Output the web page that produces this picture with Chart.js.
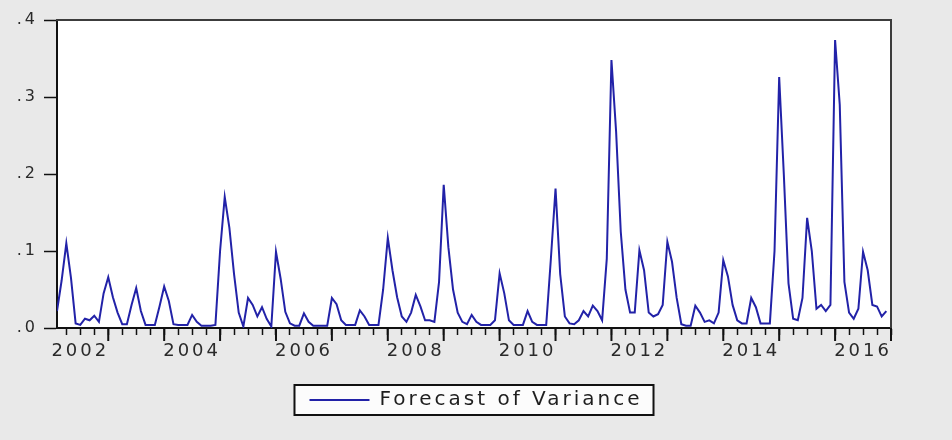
<!DOCTYPE html>
<html>
<head>
<meta charset="utf-8">
<script src="https://cdn.jsdelivr.net/npm/chart.js@4.4.1/dist/chart.umd.min.js"></script>
<style>
  html, body { margin: 0; padding: 0; background: #e9e9e9; }
  canvas { display: block; }
</style>
</head>
<body>
<canvas id="c" width="952" height="440"></canvas>
<script>
// ---------- DATA ----------
const seriesName = 'Forecast of Variance';
const startYear = 2002;   // first observation: 2002M02
const startMonth = 2;
// monthly values, 2002M02 .. 2016M12
const variance = [
  /*2002*/ 0.022, 0.062, 0.110, 0.065, 0.006, 0.004, 0.012, 0.010, 0.016, 0.008, 0.045,
  /*2003*/ 0.066, 0.040, 0.020, 0.005, 0.005, 0.030, 0.052, 0.022, 0.004, 0.004, 0.004, 0.028,
  /*2004*/ 0.054, 0.035, 0.005, 0.004, 0.004, 0.004, 0.017, 0.008, 0.003, 0.003, 0.003, 0.004,
  /*2005*/ 0.100, 0.170, 0.130, 0.070, 0.020, 0.002, 0.039, 0.030, 0.015, 0.027, 0.012, 0.002,
  /*2006*/ 0.099, 0.064, 0.021, 0.006, 0.003, 0.003, 0.019, 0.008, 0.003, 0.003, 0.003, 0.003,
  /*2007*/ 0.039, 0.031, 0.010, 0.004, 0.004, 0.004, 0.023, 0.015, 0.004, 0.004, 0.004, 0.050,
  /*2008*/ 0.117, 0.075, 0.040, 0.015, 0.008, 0.020, 0.043, 0.028, 0.010, 0.010, 0.008, 0.060,
  /*2009*/ 0.186, 0.105, 0.050, 0.020, 0.008, 0.005, 0.017, 0.008, 0.004, 0.004, 0.004, 0.010,
  /*2010*/ 0.071, 0.045, 0.010, 0.004, 0.004, 0.004, 0.022, 0.008, 0.004, 0.004, 0.004, 0.090,
  /*2011*/ 0.181, 0.070, 0.015, 0.006, 0.005, 0.010, 0.022, 0.015, 0.029, 0.022, 0.010, 0.090,
  /*2012*/ 0.348, 0.255, 0.125, 0.050, 0.020, 0.020, 0.101, 0.075, 0.020, 0.015, 0.018, 0.030,
  /*2013*/ 0.112, 0.086, 0.039, 0.005, 0.003, 0.003, 0.029, 0.020, 0.008, 0.010, 0.006, 0.020,
  /*2014*/ 0.088, 0.067, 0.030, 0.010, 0.006, 0.006, 0.039, 0.027, 0.006, 0.006, 0.006, 0.100,
  /*2015*/ 0.326, 0.199, 0.058, 0.012, 0.010, 0.039, 0.143, 0.100, 0.025, 0.030, 0.022, 0.030,
  /*2016*/ 0.374, 0.290, 0.060, 0.020, 0.012, 0.025, 0.099, 0.075, 0.030, 0.028, 0.015, 0.022
];
const yearLabels = ['2002', '2004', '2006', '2008', '2010', '2012', '2014', '2016'];
const yTickLabels = ['.0', '.1', '.2', '.3', '.4'];

// ---------- BUILD ----------
const dates = variance.map((_, i) => {
  const m0 = startMonth - 1 + i;
  return startYear + Math.floor(m0 / 12) + (m0 % 12) / 12;
});
const points = variance.map((v, i) => ({ x: dates[i], y: v }));
const xMin = dates[0];
const xMax = Math.floor(dates[dates.length - 1]) + 1;

const LS = '3px';
Chart.defaults.font.family = "'DejaVu Sans', sans-serif";

const framePlugin = {
  id: 'frame',
  beforeUpdate(chart) { chart.ctx.letterSpacing = LS; },
  beforeDraw(chart) {
    const { ctx, chartArea: a } = chart;
    ctx.letterSpacing = LS;
    ctx.save();
    ctx.fillStyle = '#ffffff';
    ctx.fillRect(a.left, a.top, a.right - a.left, a.bottom - a.top);
    const hb = chart.legend && chart.legend.legendHitBoxes[0];
    if (hb) {
      const cy = hb.top + hb.height / 2;
      ctx.fillStyle = '#fcfcfc';
      ctx.fillRect(hb.left - 15, cy - 15, hb.width + 26, 30);
      ctx.strokeStyle = '#111';
      ctx.lineWidth = 2;
      ctx.strokeRect(hb.left - 15, cy - 15, hb.width + 26, 30);
    }
    ctx.restore();
  },
  afterDraw(chart) {
    const { ctx, chartArea: a, scales: { x } } = chart;
    ctx.save();
    ctx.strokeStyle = '#3c3c3c';
    ctx.lineWidth = 2;
    ctx.beginPath();
    ctx.moveTo(a.left - 1, a.top);
    ctx.lineTo(a.right + 1, a.top);
    ctx.stroke();
    ctx.strokeStyle = '#111';
    ctx.lineWidth = 2;
    for (let yr = Math.ceil(x.min); yr <= x.max; yr++) {
      const px = x.getPixelForValue(yr);
      ctx.beginPath();
      ctx.moveTo(px, a.bottom);
      ctx.lineTo(px, a.bottom + 13);
      ctx.stroke();
    }
    ctx.restore();
  }
};

new Chart(document.getElementById('c'), {
  type: 'line',
  data: {
    datasets: [{
      label: seriesName,
      data: points,
      borderColor: '#2222a8',
      backgroundColor: '#2222a8',
      borderWidth: 2,
      pointRadius: 0,
      tension: 0,
      fill: false
    }]
  },
  options: {
    responsive: false,
    animation: false,
    layout: { padding: { left: 0, right: 0, top: 20, bottom: 20 } },
    plugins: {
      legend: {
        position: 'bottom',
        labels: {
          usePointStyle: true,
          pointStyle: 'line',
          pointStyleWidth: 60,
          color: '#1e1e1e',
          font: { size: 20 },
          padding: 10
        }
      },
      tooltip: { enabled: false }
    },
    scales: {
      x: {
        type: 'linear',
        min: xMin,
        max: xMax,
        afterBuildTicks(axis) {
          const t = [];
          for (let q = Math.ceil(xMin * 4); q <= xMax * 4; q++) t.push({ value: q / 4 });
          axis.ticks = t;
        },
        afterFit(axis) { axis.height = 52; },
        ticks: {
          autoSkip: false,
          maxRotation: 0,
          padding: 6,
          color: '#2a2a2a',
          font: { size: 18 },
          callback(v) {
            const yr = Math.floor(v);
            return (Math.abs(v - yr - 0.5) < 1e-6 && yearLabels.includes(String(yr))) ? String(yr) : '';
          }
        },
        grid: { drawOnChartArea: false, tickLength: 7, tickColor: '#111', tickWidth: 1.5 },
        border: { color: '#111', width: 2 }
      },
      y: {
        type: 'linear',
        position: 'left',
        min: 0,
        max: 0.4,
        afterFit(axis) { axis.width = 57; },
        ticks: {
          stepSize: 0.1,
          padding: 6,
          color: '#2a2a2a',
          font: { size: 16 },
          callback(v) { return yTickLabels[Math.round(v * 10)]; }
        },
        grid: { drawOnChartArea: false, tickLength: 13, tickColor: '#111', tickWidth: 1.5 },
        border: { color: '#111', width: 2 }
      },
      yRight: {
        type: 'linear',
        position: 'right',
        min: 0,
        max: 1,
        afterFit(axis) { axis.width = 61; },
        ticks: { display: false },
        grid: { display: false },
        border: { display: true, color: '#3c3c3c', width: 2 }
      }
    }
  },
  plugins: [framePlugin]
});
</script>
</body>
</html>
